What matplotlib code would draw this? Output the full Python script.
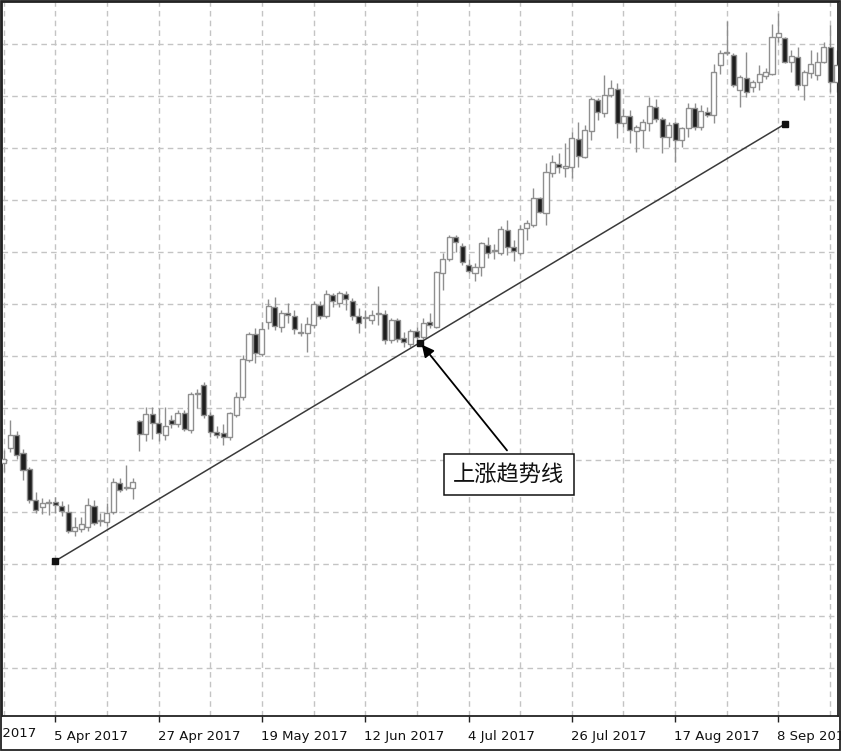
import matplotlib
matplotlib.use('Agg')
import matplotlib.pyplot as plt
from matplotlib.patches import Rectangle
from matplotlib.transforms import ScaledTranslation
import numpy as np

# ---- data (daily candles, bar index 0 = 24 Mar 2017) ----
opens = [64.25, 68, 71.25, 66.75, 62.75, 55, 53.25, 54.25, 54.5, 53.5,
         52, 47.25, 47.75, 48.25, 53.5, 49.75, 49.5, 52, 59.25, 57.9,
         58, 74.75, 71.5, 76.5, 74.25, 71.25, 75, 74, 76.75, 72.5,
         81.5, 83.75, 76.25, 72, 71.75, 70.75, 76.25, 80.75, 90, 96.5,
         91.5, 99.5, 103.25, 98.25, 101.75, 101, 96.75, 96.75, 98.75, 103.75,
         101, 106.25, 104.25, 106.5, 104.75, 101, 100.5, 100, 101.4, 101.5,
         95, 100, 95.5, 94, 97.25, 95.75, 99.5, 98.25, 111.75, 115.25,
         120.75, 118.5, 113.75, 111.75, 113.25, 118.75, 117.25, 116.75, 122.5, 118.25,
         116.75, 123, 123.75, 130.5, 126.75, 136.75, 139, 138, 138.25, 145.25,
         140.75, 147.25, 155, 151.75, 156.25, 157.75, 149.25, 151, 147.25, 147.5,
         149.25, 153.25, 150.25, 145.75, 149.25, 145, 148, 153, 148.25, 152.1,
         151.25, 163.75, 166.75, 166.25, 157.5, 160.5, 158.25, 159.5, 161, 161.5,
         170.75, 170.5, 164.5, 165.75, 158.75, 161.75, 161.25, 164.5, 168.25, 159.5]
highs = [67.5, 75, 72.25, 67.75, 63.25, 57, 55.5, 55.25, 55.75, 54.75,
         54, 50.75, 50.75, 55.5, 55, 51.75, 54.25, 60.5, 60.5, 63.75,
         60.5, 75, 78.25, 78.25, 78, 78.25, 76.25, 77.5, 77.5, 82,
         82.75, 84.5, 77, 73.5, 74, 77, 82, 91.25, 97, 98,
         99.5, 105.25, 105.75, 102.5, 104.25, 102.5, 99.25, 100.75, 104.75, 104.75,
         107.5, 106.75, 107.25, 107.25, 105.5, 103, 102.5, 102.5, 108.5, 102.5,
         100.5, 100.5, 97, 97.75, 98.25, 100.5, 101.75, 112.25, 116.75, 121.25,
         121.25, 119.25, 115.25, 114.25, 119.5, 120.75, 119, 123.5, 125, 120,
         123.75, 125, 133, 130.75, 139.25, 141.25, 141.75, 144.25, 147, 149.5,
         148.75, 155.75, 155.5, 161.25, 160, 159.25, 152.75, 152.5, 148.75, 150.25,
         155.75, 155.25, 150.75, 149.5, 149.5, 148.25, 154.25, 154.25, 153.75, 153.25,
         164, 167.5, 174.75, 166.75, 161.25, 167, 160, 163.75, 163, 174,
         176.75, 170.75, 167.5, 168.25, 162.5, 167.5, 167, 169.5, 173.75, 167.5]
lows = [62, 67, 65.25, 60, 54.25, 51.75, 51.5, 51.25, 51.75, 51,
        46.75, 46, 47, 47.25, 48.75, 48.5, 48.5, 51.5, 57, 57.5,
        55.25, 67.25, 69.75, 70.25, 69.75, 70, 73, 73.25, 72.25, 71.75,
        78, 75.5, 70.75, 70.5, 68.75, 70, 75.75, 80, 89.5, 89.25,
        91, 97.75, 97.5, 97, 99.25, 96.5, 96, 92, 98, 100.25,
        100.5, 103.25, 103.25, 102.5, 100, 96.75, 98, 99, 98.75, 94,
        94.25, 94.5, 93.25, 93.25, 94.5, 95.25, 98, 98, 107.5, 114.75,
        117, 113.75, 111.75, 109.75, 111, 115.5, 115.25, 116.25, 116.25, 114.75,
        116.25, 120, 123.25, 126.75, 123.75, 135.75, 136.75, 135.75, 135.5, 138.25,
        140.5, 145, 150, 150.75, 155.75, 145.5, 148.25, 144.25, 142, 143,
        147.25, 149.5, 141.75, 143.25, 139.5, 143.25, 145.75, 147.5, 147.5, 150.75,
        149.25, 161.5, 166.25, 158.25, 153.25, 155.75, 157, 157.5, 160.25, 161.25,
        169.5, 164.25, 162, 157.5, 155, 160.5, 160, 164.25, 157, 157]
closes = [65.25, 71.25, 66.25, 62.5, 55, 52.5, 54.25, 54.5, 53.75, 52.25,
          47.25, 48.25, 49, 53.75, 49.25, 50, 51.75, 59.5, 57.5, 58.1,
          59.5, 71.5, 76.5, 74.25, 71.75, 73.5, 74, 76.75, 72.75, 81.5,
          81.75, 76.25, 72, 71.25, 70.75, 76.75, 80.75, 90.25, 96.5, 91.75,
          97.75, 103.5, 98.5, 101.75, 101.25, 97.75, 97, 99, 104, 101,
          106.5, 104.75, 106.75, 105.25, 101, 99.25, 100.4, 101.25, 101.5, 95,
          100, 95.25, 94.5, 97.25, 95.75, 99.25, 98.75, 112, 115.25, 120.75,
          119.5, 114.5, 112.25, 113.25, 119.25, 116.75, 117.4, 122.75, 118.25, 117.25,
          122.75, 124.25, 130.5, 127, 137, 139.5, 138.25, 138.5, 145.5, 141,
          147.5, 155.25, 152, 156.25, 158, 149.25, 151, 147.5, 148.25, 149.5,
          153.5, 150.25, 145.75, 148.75, 145, 148, 153, 148.25, 152.25, 151.25,
          162, 166.75, 167, 158.75, 160.75, 157, 159.5, 161.5, 162, 170.75,
          171.75, 164.5, 166, 158.75, 162, 164, 164.5, 168.25, 159.5, 163.75]

tick_bars = [8, 24, 40, 56, 72, 88, 104, 120]
tick_labels = ['5 Apr 2017', '27 Apr 2017', '19 May 2017', '12 Jun 2017',
               '4 Jul 2017', '26 Jul 2017', '17 Aug 2017', '8 Sep 2017']
prev_bar, prev_label = -8, '14 Mar 2017'

trend_bars = [8, 121]
trend_prices = [39.75, 149.0]

label_text = '上涨趋势线'
label_pos = (78.2, 61.4)
arrow_tail = (77.96, 67.4)

# ---- figure ----
W, H = 841, 751
fig = plt.figure(figsize=(W / 100, H / 100), dpi=100)
ax = fig.add_axes([2 / W, 35 / H, 836 / W, 714 / H])
ax.set_xlim(-0.25, 129.22)
ax.set_ylim(1, 179.5)

grid_kw = dict(color='#c4c4c4', linestyle=(0, (4, 3)), linewidth=1.0, zorder=0)
for gx in range(0, 130, 8):
    ax.axvline(gx, **grid_kw)
for gy in np.arange(13, 180, 13):
    ax.axhline(gy, **grid_kw)

wick_c = '#8f8f8f'
bw = 0.78
for i, (o, h, l, c) in enumerate(zip(opens, highs, lows, closes)):
    ax.plot([i, i], [l, h], color=wick_c, lw=1.0, zorder=2, solid_capstyle='butt')
    bottom = min(o, c)
    height = max(abs(c - o), 0.35)
    face = 'white' if c >= o else '#1e1e1e'
    ax.add_patch(Rectangle((i - bw / 2, bottom), bw, height, facecolor=face,
                           edgecolor=wick_c, lw=1.0, zorder=3))

# trend line
ax.plot(trend_bars, trend_prices, color='#3a3a3a', lw=1.1, zorder=4)
mid = (np.mean(trend_bars), np.mean(trend_prices))
ax.plot(list(trend_bars) + [mid[0]], list(trend_prices) + [mid[1]], linestyle='none',
        marker='s', ms=5, color='#111111', zorder=5)

# annotation
ax.annotate('', xy=mid, xytext=arrow_tail,
            arrowprops=dict(arrowstyle='-|>', color='black', lw=1.3,
                            mutation_scale=18, shrinkA=0, shrinkB=2), zorder=6)
ax.text(label_pos[0], label_pos[1], label_text, ha='center', va='center',
        fontsize=16, family=['Noto Sans CJK SC', 'DejaVu Sans'], color='#111111',
        zorder=7,
        bbox=dict(boxstyle='square,pad=0.42', facecolor='white', edgecolor='#111111', lw=1.1))

# axes styling
for s in ['left', 'top', 'right', 'bottom']:
    ax.spines[s].set_linewidth(1.3)
    ax.spines[s].set_color('#222222')
ax.set_yticks([])
ax.set_xticks(tick_bars)
ax.set_xticklabels(tick_labels, ha='left')
ax.tick_params(axis='x', direction='out', length=4, width=1, color='#222222',
               labelsize=9.5, pad=6, labelcolor='#111111')
off = ScaledTranslation(-1 / 100, 0, fig.dpi_scale_trans)
for lbl in ax.get_xticklabels():
    lbl.set_transform(lbl.get_transform() + off)
ax.text(prev_bar, -0.015, prev_label, transform=ax.get_xaxis_transform(),
        ha='left', va='top', fontsize=9.5, color='#111111', clip_on=False)

fig.patches.append(Rectangle((0.5 / W, 1.5 / H), (W - 2) / W, (H - 2.5) / H,
                             transform=fig.transFigure, fill=False,
                             edgecolor='#222222', lw=1.3))
fig.savefig('out.png', dpi=100)
